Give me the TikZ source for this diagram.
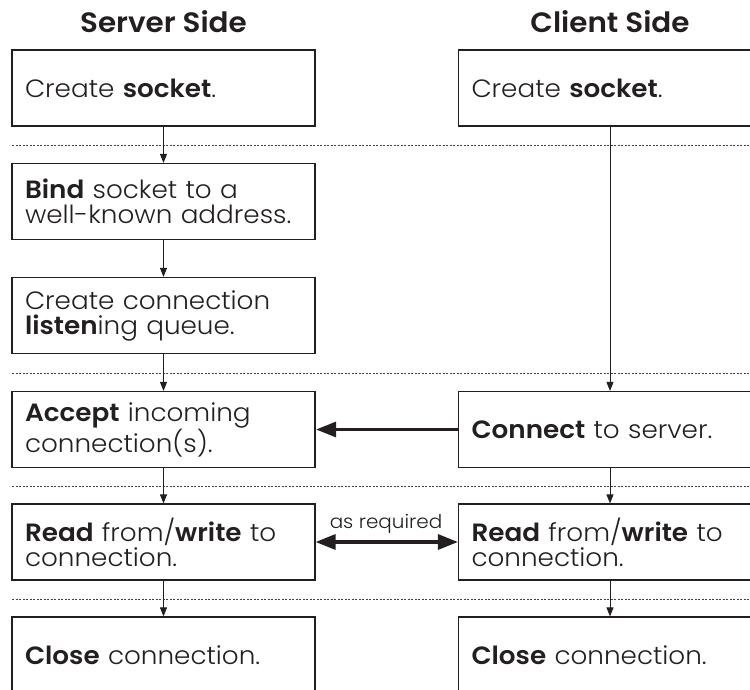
\documentclass[tikz,border=0pt]{standalone}
\usepackage{fontspec}
\setmainfont{Poppins Light}[BoldFont=Poppins SemiBold, FakeStretch=1.05]
\usetikzlibrary{arrows.meta}
\definecolor{ink}{HTML}{231F20}
\begin{document}
\begin{tikzpicture}[x=1pt,y=-1pt,
  box/.style={draw=ink, line width=1.2pt, minimum width=303pt, minimum height=76pt,
    text width=277pt, align=left, inner sep=0pt, text=ink,
    font=\fontsize{25}{25}\selectfont},
  header/.style={text=ink, font=\fontsize{28}{30}\selectfont\bfseries, inner sep=0pt},
  flow/.style={draw=ink, line width=0.9pt, -{Triangle[length=9pt,width=7pt]}},
  bigflow/.style={draw=ink, line width=3.2pt, -{Triangle[length=20pt,width=15pt]}, shorten >=0.5pt},
  bothflow/.style={draw=ink, line width=3.2pt, {Triangle[length=20pt,width=15pt]}-{Triangle[length=20pt,width=15pt]}},
  sep/.style={draw=ink!85, line width=0.9pt, dash pattern=on 2pt off 1.5pt},
  note/.style={text=ink, font=\fontsize{19}{20}\selectfont, inner sep=0pt}]
\clip (0,0) rectangle (750,690);

\node[header] (hs) at (163.5,22) {Server Side};
\node[header] (hc) at (610,22) {Client Side};

\draw[sep] (12,145) -- (750,145);
\draw[sep] (12,373) -- (750,373);
\draw[sep] (12,486) -- (750,486);
\draw[sep] (12,599) -- (750,599);

\node[box] (s1) at (163.5,88) {Create \textbf{socket}.};
\node[box] (s2) at (163.5,201.5) {\textbf{Bind} socket to a\\well-known address.};
\node[box] (s3) at (163.5,315.5) {Create connection\\\textbf{listen}ing queue.};
\node[box] (s4) at (163.5,429.5) {\textbf{Accept} incoming\\connection(s).};
\node[box] (s5) at (163.5,542) {\textbf{Read} from/\textbf{write} to\\connection.};
\node[box] (s6) at (163.5,655) {\textbf{Close} connection.};

\node[box] (c1) at (610,88) {Create \textbf{socket}.};
\node[box] (c4) at (610,429.5) {\textbf{Connect} to server.};
\node[box] (c5) at (610,542) {\textbf{Read} from/\textbf{write} to\\connection.};
\node[box] (c6) at (610,655) {\textbf{Close} connection.};

\draw[flow] (s1.south) -- (s2.north);
\draw[flow] (s2.south) -- (s3.north);
\draw[flow] (s3.south) -- (s4.north);
\draw[flow] (s4.south) -- (s5.north);
\draw[flow] (s5.south) -- (s6.north);

\draw[flow] (c1.south) -- (c4.north);
\draw[flow] (c4.south) -- (c5.north);
\draw[flow] (c5.south) -- (c6.north);

\draw[bigflow] (c4.west) -- (s4.east);
\draw[bothflow] (s5.east) -- (c5.west);
\node[note, anchor=base] (req) at (386,528) {as required};
\end{tikzpicture}
\end{document}
